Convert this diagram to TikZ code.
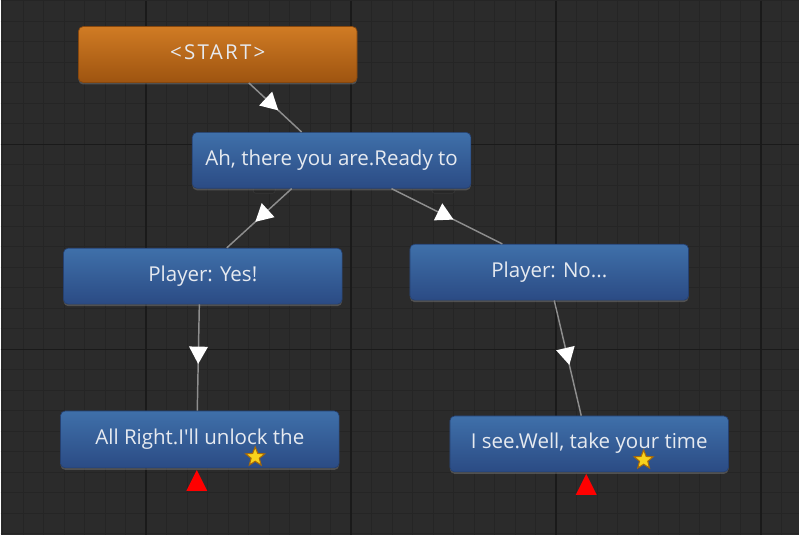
\documentclass[tikz,border=0pt]{standalone}
\usepackage{fontspec}
\setmainfont{Open Sans}
\usetikzlibrary{arrows.meta, shapes.geometric, shadows, decorations.markings}

\definecolor{canvas}{HTML}{2B2B2B}
\definecolor{minorline}{HTML}{252525}
\definecolor{majorline}{HTML}{1A1A1A}
\definecolor{startTop}{HTML}{D07B24}
\definecolor{startBot}{HTML}{9E5410}
\definecolor{dlgTop}{HTML}{3F70AA}
\definecolor{dlgBot}{HTML}{2B4B84}
\definecolor{linkgray}{HTML}{8E8E8E}
\definecolor{labeltext}{HTML}{E6EAF0}
\definecolor{starYellow}{HTML}{F7D21C}
\definecolor{starEdge}{HTML}{A86A08}
\definecolor{tabfill}{HTML}{262626}
\definecolor{tabedge}{HTML}{363636}

\begin{document}
\begin{tikzpicture}[x=0.75pt, y=-0.75pt,
    box/.style={rectangle, rounded corners=3.5pt, minimum width=209.25pt, minimum height=42pt,
      inner sep=0pt, text=labeltext, text height=10.5pt, text depth=3pt,
      font=\fontsize{15.4pt}{18pt}\selectfont,
      drop shadow={shadow xshift=0pt, shadow yshift=-1.5pt, opacity=0.45}},
    start_node/.style={box, top color=startTop, bottom color=startBot, draw=startBot!85!black, line width=0.5pt},
    dlg_node/.style={box, top color=dlgTop, bottom color=dlgBot, draw=dlgBot!85!black, line width=0.5pt},
    link/.style={draw=linkgray, line width=1.1pt, postaction={decorate},
      decoration={markings, mark=at position 0.56 with {\arrow{Triangle[width=14pt, length=13pt, color=white]}}}},
    star_mark/.style={star, star points=5, star point ratio=2.3, fill=starYellow, draw=starEdge,
      line width=0.8pt, minimum size=15pt, inner sep=0pt},
    port_tab/.style={fill=tabfill, draw=tabedge, line width=0.5pt, rounded corners=2pt},
    ]
    % Grid
    \fill[canvas] (0,0) rectangle (800,535);
    \foreach \i in {-7,...,31} \draw[minorline, line width=0.75pt] ({145.7+\i*20.53},0) -- ++(0,535);
    \foreach \i in {-7,...,19} \draw[minorline, line width=0.75pt] (0,{144+\i*20.53}) -- ++(800,0);
    \foreach \i in {0,...,3} \draw[majorline, line width=0.9pt] ({145.7+\i*205.3},0) -- ++(0,535);
    \foreach \i in {0,1} \draw[majorline, line width=0.9pt] (0,{144+\i*205.3}) -- ++(800,0);
    \useasboundingbox (0,0) rectangle (800,535);

    % Ports
    \draw[port_tab] (253,180) rectangle (275,193);
    \draw[port_tab] (432,180) rectangle (455,193);

    % Nodes
    \node[start_node] (start) at (217.5,54) {\addfontfeature{LetterSpace=11}<START>};
    \node[dlg_node] (ah) at (331.5,160) {Ah, there you are.Ready to};
    \node[dlg_node] (yes) at (202.5,276) {Player: Yes!};
    \node[dlg_node] (no) at (549.5,272) {Player: No...};
    \node[dlg_node, minimum height=42.75pt] (allright) at (199.5,439.5) {All Right.I\textquotesingle ll unlock the};
    \node[dlg_node] (isee) at (589.5,444) {I see.Well, take your time};
    \node[star_mark] (star1) at (255,457) {};
    \node[star_mark] (star2) at (644,460) {};

    % Markers
    \fill[red] (196.5,470) -- (207,491) -- (186,491) -- cycle;
    \fill[red] (586.5,474) -- (597,495) -- (576,495) -- cycle;

    % Links
    \path[link] ([xshift=23.25pt]start.south) -- ([xshift=-22.5pt]ah.north);
    \path[link] ([xshift=-30pt]ah.south) -- ([xshift=18pt]yes.north);
    \path[link] ([xshift=45pt]ah.south) -- ([xshift=-35.25pt]no.north);
    \path[link] ([xshift=-2.6pt]yes.south) -- ([xshift=-1.9pt]allright.north);
    \path[link] ([xshift=3.75pt]no.south) -- ([xshift=-6pt]isee.north);
\end{tikzpicture}
\end{document}
